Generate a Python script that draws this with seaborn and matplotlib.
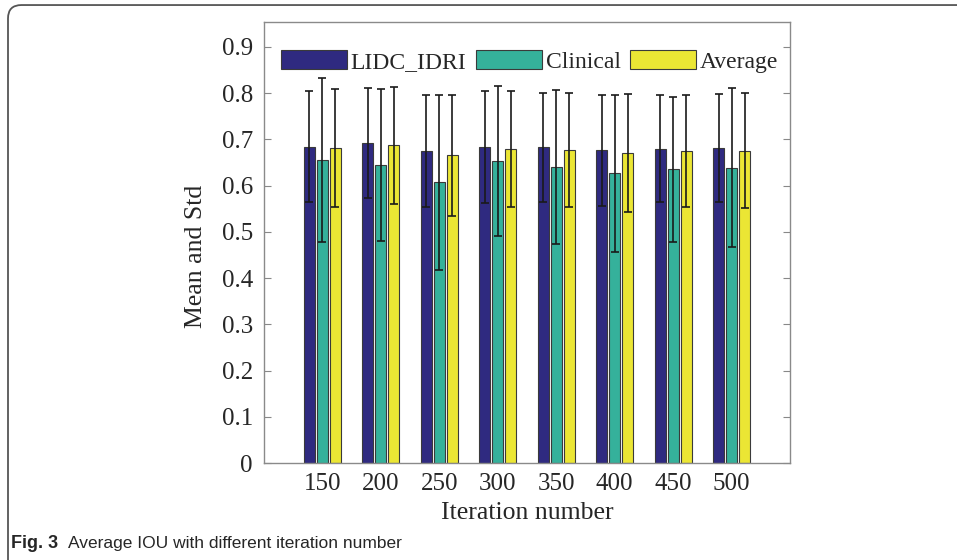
import pandas as pd
import matplotlib.pyplot as plt
import seaborn as sns
from matplotlib import font_manager
from matplotlib.patches import FancyBboxPatch

# Values
iterations = ["150", "200", "250", "300", "350", "400", "450", "500"]
series = ["LIDC_IDRI", "Clinical", "Average"]

lidc_mean = [0.684, 0.693, 0.675, 0.683, 0.683, 0.677, 0.680, 0.682]
lidc_std = [0.120, 0.119, 0.121, 0.121, 0.118, 0.120, 0.116, 0.117]
clinical_mean = [0.656, 0.645, 0.607, 0.653, 0.640, 0.627, 0.635, 0.639]
clinical_std = [0.177, 0.165, 0.190, 0.162, 0.166, 0.170, 0.156, 0.172]
average_mean = [0.681, 0.687, 0.666, 0.679, 0.677, 0.671, 0.675, 0.676]
average_std = [0.127, 0.126, 0.131, 0.126, 0.124, 0.127, 0.121, 0.124]

colors = ["#2f2a80", "#35b19b", "#ebe634"]

means = [lidc_mean, clinical_mean, average_mean]
stds = [lidc_std, clinical_std, average_std]


def pick_font(candidates):
    for name in candidates:
        try:
            font_manager.findfont(name, fallback_to_default=False)
            return name
        except ValueError:
            continue
    return candidates[-1]


serif_font = pick_font(["Liberation Serif", "Times New Roman", "DejaVu Serif"])
caption_font = pick_font(["Liberation Sans Narrow", "Liberation Sans", "DejaVu Sans"])

# long format table for seaborn
rows = []
for name, vals in zip(series, means):
    for it, v in zip(iterations, vals):
        rows.append({"iteration": it, "series": name, "value": v})
df = pd.DataFrame(rows)

sns.set_theme(style="white")
plt.rcParams["font.family"] = [serif_font, "DejaVu Serif"]

fig = plt.figure(figsize=(9.57, 5.60), dpi=100)
ax = fig.add_axes([0.2759, 0.1732, 0.5496, 0.7875])

sns.barplot(
    data=df, x="iteration", y="value", hue="series",
    order=iterations, hue_order=series, palette=colors,
    width=0.667, gap=0.15, errorbar=None,
    edgecolor="#3a3a3a", linewidth=0.8, saturation=1, ax=ax,
)

# error bars (mean +/- std) on top of each bar
for cont, sd in zip(ax.containers, stds):
    xs = [b.get_x() + b.get_width() / 2 for b in cont]
    ys = [b.get_height() for b in cont]
    ax.errorbar(xs, ys, yerr=sd, fmt="none", ecolor="#1a1a1a",
                elinewidth=1.2, capsize=2.8, capthick=1.2, zorder=5)

ax.set_xlim(-1, 8)
ax.set_ylim(0, 0.954)
ax.set_yticks([0, 0.1, 0.2, 0.3, 0.4, 0.5, 0.6, 0.7, 0.8, 0.9])
ax.set_yticklabels(["0", "0.1", "0.2", "0.3", "0.4", "0.5", "0.6", "0.7", "0.8", "0.9"])
ax.set_xlabel("Iteration number", fontsize=18.5, labelpad=5)
ax.set_ylabel("Mean and Std", fontsize=18.5)
ax.yaxis.set_label_coords(-0.108, 0.469)

ax.tick_params(axis="y", direction="in", length=5, width=0.8, color="#888888",
               left=True, right=True, labelsize=18, pad=8)
ax.tick_params(axis="x", length=0, labelsize=18, pad=7)
for sp in ax.spines.values():
    sp.set_visible(True)
    sp.set_color("#8a8a8a")
    sp.set_linewidth(1.0)

leg = ax.legend(
    loc="center", bbox_to_anchor=(0.505, 0.91), ncol=3, frameon=False,
    fontsize=17, handlelength=2.8, handleheight=0.85, handletextpad=0.15,
    columnspacing=0.4, borderaxespad=0,
)
for h in leg.legend_handles:
    h.set_edgecolor("#3a3a3a")
    h.set_linewidth(0.8)

# surrounding journal frame and caption
frame = FancyBboxPatch((8 / 957, -0.1), 1.2, 1.091, transform=fig.transFigure,
                       boxstyle="round,pad=0,rounding_size=0.014",
                       facecolor="none", edgecolor="#555555", linewidth=1.3,
                       mutation_aspect=957 / 560)
fig.patches.append(frame)

fig.text(0.011, 0.022, "Fig. 3", fontsize=13, fontweight="bold",
         family=[caption_font, "DejaVu Sans"], va="baseline")
fig.text(0.071, 0.022, "Average IOU with different iteration number", fontsize=12.5,
         family=[caption_font, "DejaVu Sans"], va="baseline")

fig.savefig("out.png", dpi=100)
